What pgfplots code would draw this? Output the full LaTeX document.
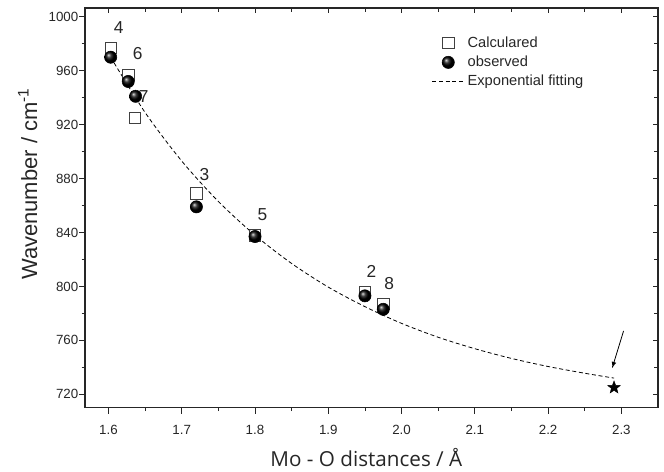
\documentclass[border=0pt]{standalone}
\usepackage{pgfplots}
\pgfplotsset{compat=1.18}
\usepackage{fontspec}
\setmainfont{Liberation Sans}
\newfontfamily\labelfont{Open Sans}
\usetikzlibrary{plotmarks}
% filled five-pointed star
\pgfdeclareplotmark{fstar}{%
  \pgfpathmoveto{\pgfpointpolar{90}{\pgfplotmarksize}}%
  \pgfpathlineto{\pgfpointpolar{126}{0.42\pgfplotmarksize}}%
  \pgfpathlineto{\pgfpointpolar{162}{\pgfplotmarksize}}%
  \pgfpathlineto{\pgfpointpolar{198}{0.42\pgfplotmarksize}}%
  \pgfpathlineto{\pgfpointpolar{234}{\pgfplotmarksize}}%
  \pgfpathlineto{\pgfpointpolar{270}{0.42\pgfplotmarksize}}%
  \pgfpathlineto{\pgfpointpolar{306}{\pgfplotmarksize}}%
  \pgfpathlineto{\pgfpointpolar{342}{0.42\pgfplotmarksize}}%
  \pgfpathlineto{\pgfpointpolar{18}{\pgfplotmarksize}}%
  \pgfpathlineto{\pgfpointpolar{54}{0.42\pgfplotmarksize}}%
  \pgfpathclose\pgfusepathqfillstroke}
\pgfplotsset{
  markimg/.style={legend image code/.code={\draw[##1] plot coordinates {(0.42cm,0cm)};}},
  lineimg/.style={legend image code/.code={\draw[##1] (0cm,0cm) -- (0.85cm,0cm);}},
}
\begin{document}
\begin{tikzpicture}
% ticks on top and right, pointing inward
\begin{axis}[
    scale only axis, width=430pt, height=300pt,
    xmin=1.568, xmax=2.35, ymin=710, ymax=1006.5,
    axis line style={line width=0.8pt, black!85},
    xtick={1.6,1.7,...,2.3}, minor x tick num=1,
    ytick={720,760,...,1000}, minor y tick num=1,
    xtick pos=right, ytick pos=right, tick align=inside,
    xticklabels={}, yticklabels={},
    major tick length=4pt, minor tick length=3pt,
    tick style={black!85, line width=0.6pt},
]
\end{axis}
\begin{axis}[
    name=ax,
    scale only axis, width=430pt, height=300pt,
    xmin=1.568, xmax=2.35, ymin=710, ymax=1006.5,
    axis line style={line width=0.8pt, black!85},
    xtick={1.6,1.7,...,2.3}, minor x tick num=1,
    ytick={720,760,...,1000}, minor y tick num=1,
    xtick pos=left, ytick pos=left, tick align=outside,
    major tick length=4.5pt, minor tick length=2.5pt,
    tick style={black!85, line width=0.6pt},
    ticklabel style={font=\fontsize{10}{12}\selectfont, text=black!85},
    /pgf/number format/assume math mode=true,
    xticklabel style={yshift=-5pt, /pgf/number format/.cd, fixed, fixed zerofill, precision=1},
    yticklabel style={xshift=3pt, /pgf/number format/.cd, fixed, precision=0, 1000 sep={}},
    xlabel={Mo - O distances / Å},
    ylabel={Wavenumber / cm\textsuperscript{-1}},
    xlabel style={font=\labelfont\fontsize{15.5}{18}\selectfont, text=black!85,
        at={(axis description cs:0.491,-0.125)}, anchor=center},
    ylabel style={font=\fontsize{16.5}{19}\selectfont, text=black!85,
        at={(axis description cs:-0.1,0.56)}, anchor=center},
    legend style={draw=none, fill=none, at={(0.598,0.942)}, anchor=north west,
        font=\fontsize{11}{13}\selectfont, text=black!85, row sep=1pt},
    legend cell align=left,
]
\addplot[only marks, mark=square, mark size=4.3pt, mark options={black!75, line width=0.6pt}, markimg]
coordinates {
(1.603,977) (1.627,957) (1.636,925) (1.720,869) (1.800,838) (1.950,796) (1.975,787)
};
\addlegendentry{Calculared}
\addplot[only marks, mark=ball, mark size=4.6pt, mark options={ball color=black}, markimg]
coordinates {
(1.603,970) (1.627,952) (1.637,941) (1.720,859) (1.800,837) (1.950,793) (1.975,783)
};
\addlegendentry{observed}
\addplot[black, densely dashed, line width=0.6pt, smooth, lineimg]
coordinates {
(1.603,970) (1.65,929) (1.70,893) (1.75,863) (1.80,838) (1.85,817) (1.90,799.5)
(1.95,785) (2.00,772.6) (2.05,762.3) (2.10,753.8) (2.15,746.6) (2.20,740.6)
(2.25,735.6) (2.29,732)
};
\addlegendentry{Exponential fitting}
\addplot[only marks, mark=fstar, mark size=5pt, forget plot,
    mark options={fill=black, draw=black, line width=0.3pt}] coordinates {(2.29,725)};
% point labels
\begin{scope}[font=\fontsize{13}{15}\selectfont, text=black!85]
\node at (axis cs:1.614,992) {4};
\node at (axis cs:1.640,973) {6};
\node at (axis cs:1.648,941) {7};
\node at (axis cs:1.731,883) {3};
\node at (axis cs:1.810,853) {5};
\node at (axis cs:1.959,811) {2};
\node at (axis cs:1.983,802) {8};
\end{scope}
\draw[-latex, line width=0.6pt] (axis cs:2.303,767) -- (axis cs:2.2875,739.5);
\end{axis}
\pgfresetboundingbox
\path ([shift={(-63.8pt,-48pt)}]ax.south west) rectangle ([shift={(4.5pt,6pt)}]ax.north east);
\end{tikzpicture}
\end{document}
